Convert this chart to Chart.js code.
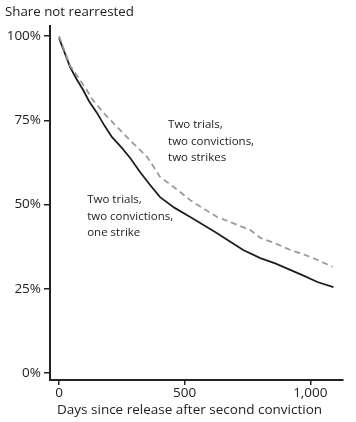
<!DOCTYPE html>
<html>
<head>
<meta charset="utf-8">
<script src="https://cdn.jsdelivr.net/npm/chart.js@4.4.1/dist/chart.umd.min.js"></script>
<style>
html,body{margin:0;padding:0;background:#fff;}
#wrap{width:356px;height:422px;}
</style>
</head>
<body>
<div id="wrap"><canvas id="c" width="356" height="422"></canvas></div>
<script>
// Data (days since release, share not rearrested %)
const oneStrikeDays   = [0, 20, 44, 70, 96, 120, 151, 180, 211, 250, 283, 323, 360, 402, 460, 522, 575, 629, 680, 733, 801, 860, 920, 975, 1028, 1092];
const oneStrikeValues = [99.4, 95.5, 90.8, 87.2, 84.0, 80.6, 77.2, 73.5, 70.0, 66.8, 63.8, 59.6, 56.0, 52.2, 49.0, 46.3, 43.9, 41.5, 39.0, 36.5, 34.1, 32.5, 30.6, 28.8, 27.0, 25.5];
const twoStrikeDays   = [0, 20, 44, 84, 110, 135, 180, 231, 290, 351, 402, 460, 522, 575, 629, 681, 761, 801, 860, 920, 965, 1012, 1050, 1088];
const twoStrikeValues = [100, 96.0, 91.2, 86.9, 84.0, 81.0, 77.0, 73.0, 68.5, 64.1, 58.2, 55.0, 51.3, 48.8, 46.3, 44.8, 42.4, 40.1, 38.5, 36.5, 35.4, 34.1, 32.8, 31.5];
const yTickValues = [0, 25, 50, 75, 100];
const xTickValues = [0, 500, 1000];
const xTickLabels = ["0", "500", "1,000"];
const yTitle = "Share not rearrested";
const xTitle = "Days since release after second conviction";
const labelTwoStrikes = ["Two trials,", "two convictions,", "two strikes"];
const labelOneStrike  = ["Two trials,", "two convictions,", "one strike"];
const labelTwoStrikesAt = {x: 434, y: 73.6};
const labelOneStrikeAt  = {x: 112, y: 51.3};

const FONT = "'Open Sans', 'Noto Sans', sans-serif";
const TXT = '#222';

const toXY = (xs, ys) => xs.map((d, i) => ({x: d, y: ys[i]}));

const annot = {
  id: 'annot',
  afterDraw(chart) {
    const ctx = chart.ctx;
    const xs = chart.scales.x, ys = chart.scales.y;
    ctx.save();
    ctx.fillStyle = TXT;
    ctx.textBaseline = 'middle';
    ctx.textAlign = 'left';
    ctx.font = "13.3px " + FONT;
    ctx.fillText(yTitle, 5, 12);
    ctx.font = "13.5px " + FONT;
    ctx.fillText(xTitle, xs.getPixelForValue(-8), 410);
    ctx.font = "11.5px " + FONT;
    const drawLines = (lines, at) => {
      const px = xs.getPixelForValue(at.x), py = ys.getPixelForValue(at.y);
      lines.forEach((t, i) => ctx.fillText(t, px, py + i * 16.5));
    };
    drawLines(labelTwoStrikes, labelTwoStrikesAt);
    drawLines(labelOneStrike, labelOneStrikeAt);
    ctx.restore();
  }
};

new Chart(document.getElementById('c'), {
  type: 'line',
  data: {
    datasets: [
      {
        data: toXY(twoStrikeDays, twoStrikeValues),
        borderColor: '#9a9a9a',
        borderWidth: 1.8,
        borderDash: [6, 4],
        pointRadius: 0,
        tension: 0,
        fill: false
      },
      {
        data: toXY(oneStrikeDays, oneStrikeValues),
        borderColor: '#1e1e1e',
        borderWidth: 1.8,
        pointRadius: 0,
        tension: 0,
        fill: false
      }
    ]
  },
  options: {
    responsive: false,
    animation: false,
    devicePixelRatio: 1,
    layout: {padding: {left: 0, right: 13, top: 26, bottom: 0}},
    plugins: {legend: {display: false}, tooltip: {enabled: false}, title: {display: false}},
    scales: {
      x: {
        type: 'linear',
        min: -36,
        max: 1130,
        afterBuildTicks(s) { s.ticks = xTickValues.map(v => ({value: v})); },
        afterFit(s) { s.height = 42; },
        grid: {display: true, drawOnChartArea: false, drawTicks: true, tickLength: 5, color: '#222', lineWidth: 1.5},
        border: {display: true, color: '#222', width: 2},
        ticks: {
          color: TXT, font: {family: FONT, size: 13.5}, padding: 0, maxRotation: 0,
          callback: (v) => xTickLabels[xTickValues.indexOf(v)]
        },
        title: {display: false}
      },
      y: {
        type: 'linear',
        min: -2.1,
        max: 103,
        afterBuildTicks(s) { s.ticks = yTickValues.map(v => ({value: v})); },
        afterFit(s) { s.width = 50; },
        grid: {display: true, drawOnChartArea: false, drawTicks: true, tickLength: 6, color: '#222', lineWidth: 1.5},
        border: {display: true, color: '#222', width: 2},
        ticks: {color: TXT, font: {family: FONT, size: 13.5}, padding: 3, callback: (v) => v + '%'}
      }
    }
  },
  plugins: [annot]
});
</script>
</body>
</html>
